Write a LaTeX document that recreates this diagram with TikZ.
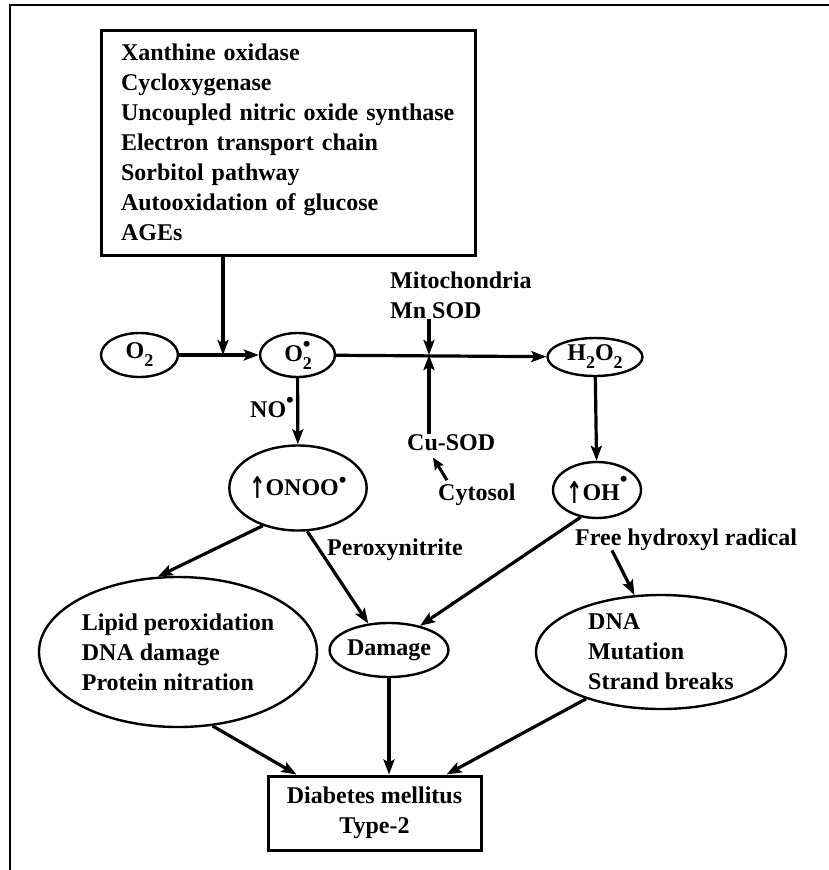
\documentclass[tikz,border=0pt]{standalone}
\usepackage{fontspec}
\usepackage{graphicx}
\setmainfont{Liberation Serif}
\newfontfamily\arrowfont{DejaVu Sans}
\usetikzlibrary{positioning, shapes.geometric, arrows.meta}

\newcommand{\lowtwo}{\raisebox{-8pt}{\fontsize{18}{18}\selectfont 2}}
\newcommand{\rdot}[1]{\raisebox{#1}{\fontsize{22}{22}\selectfont •}}
\newcommand{\uparr}{\raisebox{-3pt}{\scalebox{0.8}[1.25]{\arrowfont\bfseries ↑}}}

\tikzset{
  species/.style={ellipse, draw, line width=2.4pt, inner sep=0pt},
  srcbox/.style={rectangle, draw, line width=3pt, inner xsep=20pt, inner ysep=0pt},
  lbl/.style={inner sep=0pt},
  flow/.style={line width=3.2pt, -{Stealth[length=15pt,width=11pt,inset=3pt]}},
  shortflow/.style={line width=3pt, -{Stealth[length=12pt,width=10pt,inset=2pt]}},
}

\begin{document}
\begin{tikzpicture}[x=1pt, y=-1pt, font=\fontsize{24}{30}\selectfont\bfseries]
  \useasboundingbox (0,0) rectangle (828,870);
  \draw[line width=2.4pt] (10,900) -- (10,5) -- (900,5);

  % sources of superoxide
  \node[srcbox, text width=334pt, align=left, minimum height=225pt] (sources) at (288,142.5)
    {Xanthine oxidase\\Cycloxygenase\\Uncoupled nitric oxide synthase\\Electron transport chain\\Sorbitol pathway\\Autooxidation of glucose\\AGEs};

  % oxygen species
  \node[species, minimum width=77pt, minimum height=44pt] (o2) at (139.5,355) {O\lowtwo};
  \node[species, minimum width=75pt, minimum height=44pt] (superox) at (297.5,355) {O\rlap{\lowtwo}\rdot{10pt}};
  \node[species, minimum width=95pt, minimum height=38pt] (hperox) at (595,357) {H\lowtwo O\lowtwo};
  \node[species, minimum width=114pt, minimum height=85pt] (onoo) at (298,488) {\uparr ONOO\rdot{8pt}};
  \node[species, minimum width=88pt, minimum height=56pt] (oh) at (597,490) {\uparr OH\rdot{14pt}};

  % effects
  \node[species, minimum width=278pt, minimum height=150pt, align=left] (lipid) at (178,652)
    {Lipid peroxidation\\DNA damage\\Protein nitration};
  \node[species, minimum width=116pt, minimum height=54pt] (damage) at (389,650) {Damage};
  \node[species, minimum width=250pt, minimum height=114pt, align=left] (dna) at (661,652)
    {DNA\\Mutation\\Strand breaks};
  \node[srcbox, inner xsep=0pt, minimum width=213pt, minimum height=74pt, align=center] (dm) at (374.5,813)
    {Diabetes mellitus\\Type-2};

  % labels
  \node[lbl, anchor=north west, align=left] (mito) at (390,271.5) {Mitochondria\\Mn SOD};
  \node[lbl, anchor=base west] (cusod) at (407,450) {Cu-SOD};
  \node[lbl, anchor=base west] (cytosol) at (438,500) {Cytosol};
  \node[lbl, anchor=base west] (no) at (250,417) {NO\rdot{10pt}};
  \node[lbl, anchor=base west] (peroxy) at (327,555) {Peroxynitrite};
  \node[lbl, anchor=base west] (hydroxyl) at (575,545) {Free hydroxyl radical};

  \coordinate (join) at (223,355);
  \coordinate (sod) at (429,355);

  % connectors
  \draw[flow] (sources.south -| join) -- (join);
  \draw[flow] (o2) -- (superox);
  \draw[flow] (superox) -- (hperox);
  \draw[flow] (mito.south -| sod) -- (sod);
  \draw[flow] (cusod.north -| sod) -- (sod);
  \draw[shortflow] ([xshift=9pt,yshift=3pt]cytosol.north west) -- ([xshift=26pt,yshift=-7pt]cusod.south west);
  \draw[flow] (superox) -- (onoo);
  \draw[flow] (hperox) -- (oh);
  \draw[flow] (onoo.227) -- (lipid.105);
  \draw[flow] (onoo.282) -- (damage.128);
  \draw[flow] (oh.239) -- (damage.38);
  \draw[flow] ([xshift=37pt]hydroxyl.south west) -- (dna.115);
  \draw[flow] (lipid.295) -- ([xshift=30pt]dm.north west);
  \draw[flow] (damage.south) -- (damage.south |- dm.north);
  \draw[flow] (dna.212) -- ([xshift=-36pt]dm.north east);
\end{tikzpicture}
\end{document}
